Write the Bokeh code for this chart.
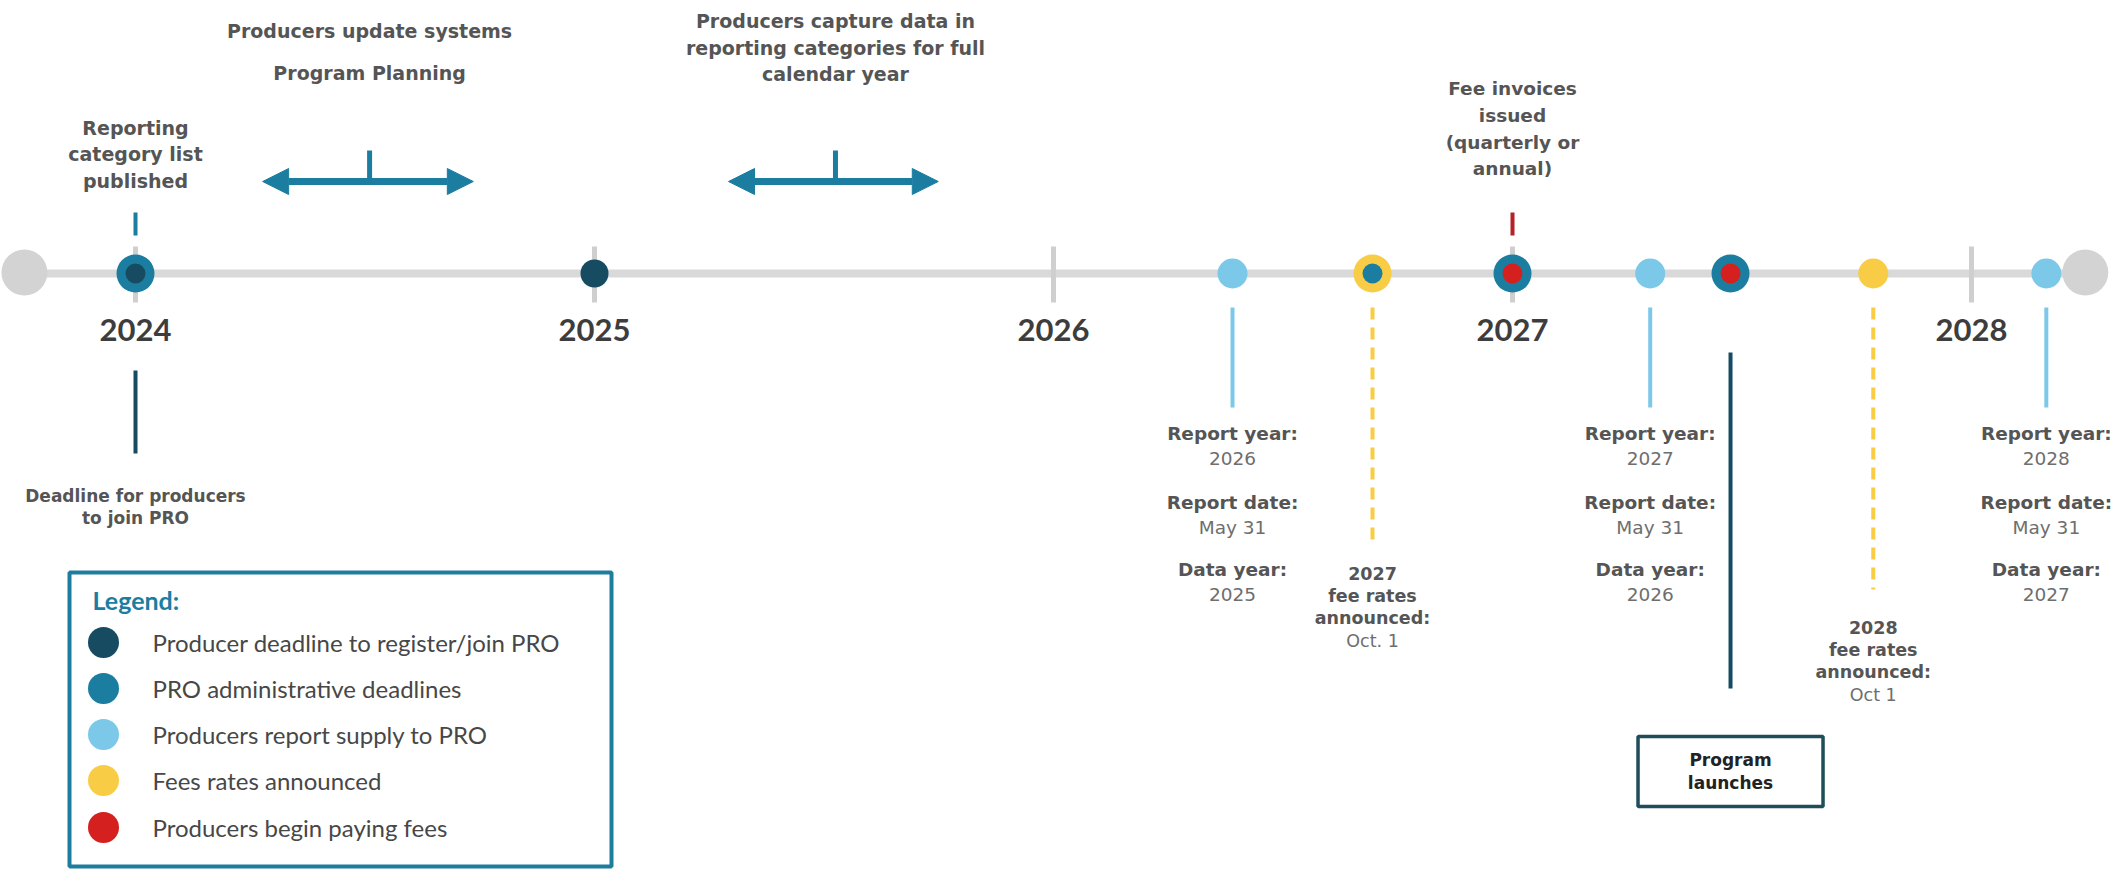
from bokeh.plotting import figure
from bokeh.models import Range1d, Arrow, NormalHead, ColumnDataSource
from bokeh.core.properties import value
from bokeh.embed import file_html
from bokeh.resources import INLINE

# ---------------- data ----------------
year_ticks = [2024, 2025, 2026, 2027, 2028]
year_labels = ["2024", "2025", "2026", "2027", "2028"]
timeline_ends = [2023.758, 2028.248]

# milestones on the line (decimal years) and their legend category
milestone_x = [2024.0, 2025.0, 2026.39, 2026.695, 2027.0, 2027.30, 2027.475, 2027.786, 2028.163]
milestone_outer = ["admin", "register", "report", "fees", "admin", "report", "admin", "fees", "report"]
milestone_inner = ["register", None, None, "admin", "paying", None, "paying", None, None]

legend_keys = ["register", "admin", "report", "fees", "paying"]
legend_labels = ["Producer deadline to register/join PRO", "PRO administrative deadlines",
                 "Producers report supply to PRO", "Fees rates announced", "Producers begin paying fees"]

# periods shown as double arrows
period_start = [2024.277, 2025.292]
period_end = [2024.736, 2025.749]
period_mid = [2024.51, 2025.525]
period_text = [["Producers update systems", "Program Planning"],
               ["Producers capture data in", "reporting categories for full", "calendar year"]]

# reporting milestones
report_x = [2026.39, 2027.30, 2028.163]
report_year = ["2026", "2027", "2028"]
report_date = ["May 31", "May 31", "May 31"]
data_year = ["2025", "2026", "2027"]

# fee-rate announcements
fee_x = [2026.695, 2027.786]
fee_year = ["2027", "2028"]
fee_date = ["Oct. 1", "Oct 1"]

# single annotations
published_x = 2024.0
published_text = ["Reporting", "category list", "published"]
join_x = 2024.0
join_text = ["Deadline for producers", "to join PRO"]
invoice_x = 2027.0
invoice_text = ["Fee invoices", "issued", "(quarterly or", "annual)"]
launch_x = 2027.475
launch_text = ["Program", "launches"]

# ---------------- style ----------------
COL = {"register": "#164b62", "admin": "#1b7ea1", "report": "#7cc8e8",
       "fees": "#f8cd45", "paying": "#d4201f"}
TEAL = "#1b7ea1"
NAVY = "#164b62"
DARKRED = "#b52226"
GRAY_LINE = "#d9d9d9"
GRAY_END = "#d3d3d3"
TXT = "#555555"
TXT_VAL = "#6e6e6e"
LABEL_FONT = "DejaVu Sans"
LINE_Y = 273

W, H = 2112, 870
PX_PER_YEAR = 459.0
X2024 = 135.0
p = figure(width=W, height=H, output_backend="svg", toolbar_location=None,
           x_axis_type=None, y_axis_type=None, min_border=0,
           x_range=Range1d(2024 - X2024 / PX_PER_YEAR, 2024 + (W - X2024) / PX_PER_YEAR),
           y_range=Range1d(H, 0))
p.extra_x_ranges = {"px": Range1d(0, W)}
p.outline_line_color = None
p.background_fill_color = "white"
p.border_fill_color = "white"


def txt(xs, ys, texts, size, color, bold=False, font=LABEL_FONT, align="center", rn=None):
    kw = dict(x=xs, y=ys, text=texts, text_font=value(font), text_font_size=f"{size}px",
              text_color=color, text_align=align, text_baseline="middle",
              text_font_style="bold" if bold else "normal")
    if rn:
        kw["x_range_name"] = rn
    p.text(**kw)


# timeline
p.line(timeline_ends, [LINE_Y, LINE_Y], line_color=GRAY_LINE, line_width=8)
p.scatter(timeline_ends, [LINE_Y - 1, LINE_Y - 1], size=46, fill_color=GRAY_END, line_color=None)
p.segment(x0=year_ticks, y0=[246] * 5, x1=year_ticks, y1=[302] * 5, line_color="#cfcfcf", line_width=5)

# connectors
p.segment(x0=[published_x, invoice_x], y0=[212, 212], x1=[published_x, invoice_x], y1=[235, 235],
          line_color=[TEAL, DARKRED], line_width=4)
p.segment(x0=[join_x], y0=[370], x1=[join_x], y1=[453], line_color=NAVY, line_width=4)
p.segment(x0=[launch_x], y0=[352], x1=[launch_x], y1=[688], line_color=NAVY, line_width=4)
p.segment(x0=report_x, y0=[307] * 3, x1=report_x, y1=[407] * 3, line_color=COL["report"], line_width=4)
p.segment(x0=fee_x, y0=[307, 307], x1=fee_x, y1=[541, 589], line_color=COL["fees"], line_width=4,
          line_dash="12 8")

# milestone dots
outer_size = [38 if inn else (28 if o == "register" else 30) for o, inn in zip(milestone_outer, milestone_inner)]
p.scatter(milestone_x, [LINE_Y] * len(milestone_x), size=outer_size,
          fill_color=[COL[o] for o in milestone_outer], line_color=None)
ix = [x for x, inn in zip(milestone_x, milestone_inner) if inn]
ic = [COL[inn] for inn in milestone_inner if inn]
p.scatter(ix, [LINE_Y] * len(ix), size=20, fill_color=ic, line_color=None)

# year labels
txt(year_ticks, [329] * 5, year_labels, 31, "#3d3d3d", bold=True, font="Lato")

# period arrows
for s, e, m in zip(period_start, period_end, period_mid):
    src = ColumnDataSource(dict(x0=[s], x1=[e], y=[181]))
    p.add_layout(Arrow(source=src, x_start="x0", y_start="y", x_end="x1", y_end="y",
                       line_color=TEAL, line_width=7,
                       start=NormalHead(size=26, fill_color=TEAL, line_color=TEAL),
                       end=NormalHead(size=26, fill_color=TEAL, line_color=TEAL)))
    p.segment(x0=[m], y0=[150], x1=[m], y1=[181], line_color=TEAL, line_width=5)
ys_top = {2: [30, 72], 3: [20, 47, 73]}
for m, lines in zip(period_mid, period_text):
    txt([m] * len(lines), ys_top[len(lines)], lines, 19, TXT, bold=True)

# annotations above
txt([published_x] * 3, [127, 153, 180], published_text, 19, TXT, bold=True)
txt([invoice_x] * 4, [88, 115, 142, 168], invoice_text, 18.5, TXT, bold=True)

# annotations below
txt([join_x] * 2, [495, 517], join_text, 17, TXT, bold=True)
for x, ry, rd, dy in zip(report_x, report_year, report_date, data_year):
    txt([x] * 3, [433, 502, 569], ["Report year:", "Report date:", "Data year:"], 18.5, TXT, bold=True)
    txt([x] * 3, [458, 527, 594], [ry, rd, dy], 18.5, TXT_VAL)
for x, fy, fd, y0 in zip(fee_x, fee_year, fee_date, [573, 627]):
    txt([x] * 3, [y0, y0 + 22, y0 + 44], [fy, "fee rates", "announced:"], 17.5, TXT, bold=True)
    txt([x], [y0 + 67], [fd], 17.5, TXT_VAL)

# program launch box
p.rect(x=[launch_x], y=[771], width=185, height=70, width_units="screen", height_units="screen",
       fill_color="white", line_color="#1f4e5a", line_width=3.5)
txt([launch_x] * 2, [759, 782], launch_text, 17, "#222222", bold=True)

# legend box
p.quad(left=[69], right=[611], top=[572], bottom=[866], x_range_name="px",
       fill_color="white", line_color="#1c7d9e", line_width=4)
txt([92], [599], ["Legend:"], 25, TEAL, bold=True, font="Lato", align="left", rn="px")
leg_y = [642, 688, 734, 780, 827]
p.scatter([103] * 5, leg_y, size=31, fill_color=[COL[k] for k in legend_keys], line_color=None,
          x_range_name="px")
txt([152] * 5, leg_y, legend_labels, 24, "#474747", font="Lato", align="left", rn="px")

open("out.html", "w").write(file_html(p, INLINE))
